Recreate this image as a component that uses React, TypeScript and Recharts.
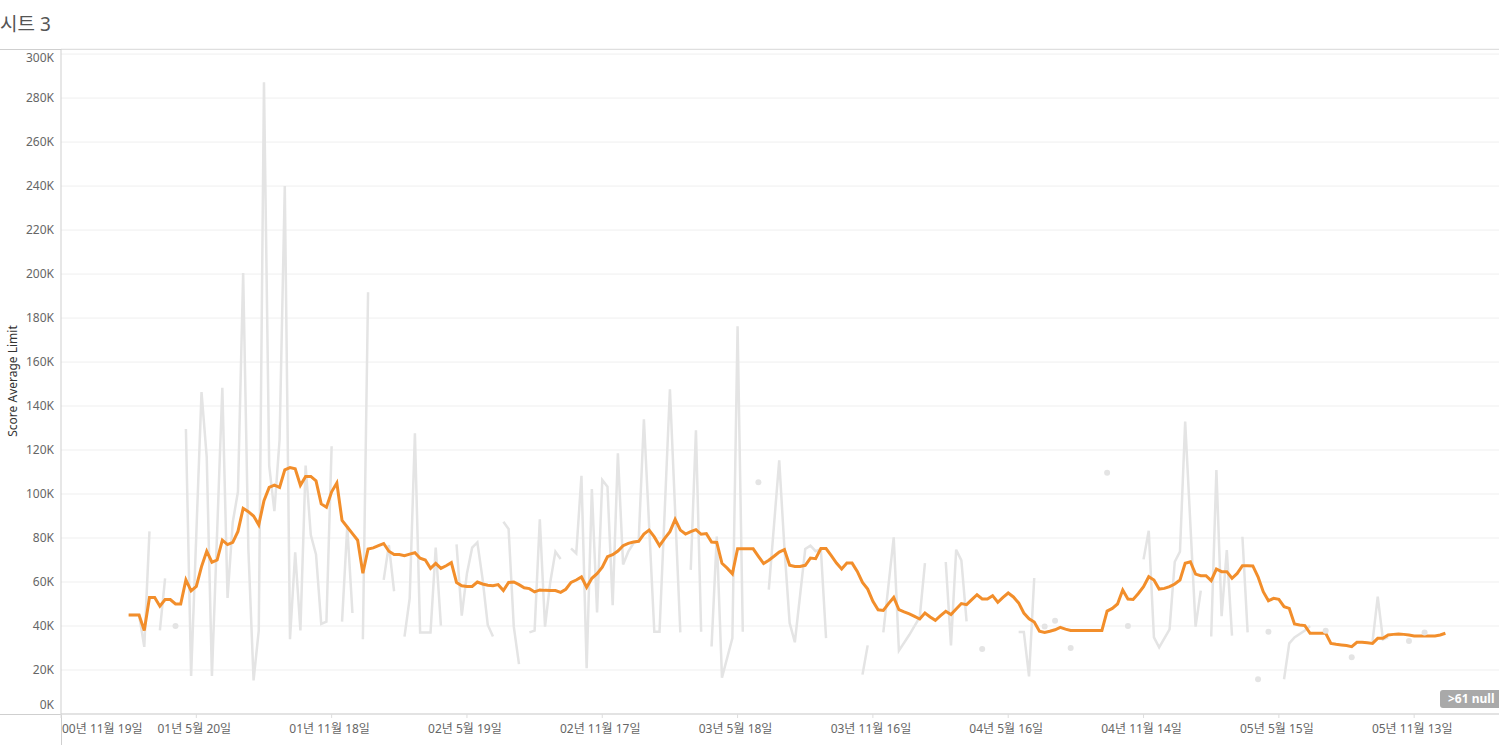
import React from 'react'
import { LineChart, Line, XAxis, YAxis, CartesianGrid } from 'recharts'

const TITLE = '시트 3'
const Y_LABEL = 'Score Average Limit'
const NULL_BADGE = '>61 null'

// weeks counted from 2000-11-19
const X_TICK_WEEKS = [0, 26, 52, 78, 104, 130, 156, 182, 208, 234, 260]
const X_TICK_LABELS = [
  '00년 11월 19일',
  '01년 5월 20일',
  '01년 11월 18일',
  '02년 5월 19일',
  '02년 11월 17일',
  '03년 5월 18일',
  '03년 11월 16일',
  '04년 5월 16일',
  '04년 11월 14일',
  '05년 5월 15일',
  '05년 11월 13일',
]
const Y_TICKS = [0, 20, 40, 60, 80, 100, 120, 140, 160, 180, 200, 220, 240, 260, 280, 300]

// moving average (K), one value per week starting at week 13
const MA_START_WEEK = 13
const movingAvgK = [
  45, 45, 45, 38, 53, 53, 49, 52, 52, 50,
  50, 61, 56, 58, 67, 74, 69, 70, 79, 77,
  78, 83, 93.5, 92, 90, 86, 97, 103, 104, 103,
  111, 112, 111.5, 104, 108, 108, 106, 95.5, 94, 101,
  105, 88, 85, 82, 79, 64, 75, 75.5, 76.5, 77.5,
  74, 72.5, 72.5, 72, 72.7, 73.3, 70.8, 70, 66.2, 68.5,
  66.2, 67.4, 68.8, 59.8, 58.3, 58, 58, 60, 59.1, 58.5,
  58.3, 58.8, 56.1, 59.8, 60, 58.8, 57.4, 57, 55.5, 56.4,
  56.2, 56.1, 56.1, 55.3, 56.7, 59.8, 60.9, 62.3, 57.6, 61.7,
  63.8, 66.7, 71.5, 72.4, 74.1, 76.5, 77.6, 78.2, 78.5, 81.8,
  83.6, 80.5, 76.5, 79.8, 82.9, 88.5, 83.6, 81.8, 82.9, 83.8,
  81.7, 82, 78.2, 78, 68.5, 66.3, 63.7, 75.1, 75.1, 75.1,
  75.1, 71.7, 68.4, 69.9, 71.7, 73.6, 74.7, 67.6, 67.1, 67.1,
  67.6, 70.9, 70.6, 75.2, 75.2, 72, 68.6, 65.9, 68.6, 68.6,
  64.8, 59.8, 56.8, 51.2, 47.4, 47.1, 50.2, 53, 47.4, 46.4,
  45.5, 44.4, 43.2, 45.9, 44.1, 42.6, 44.7, 46.7, 45.2, 47.7,
  50.2, 49.7, 52, 54.2, 52.3, 52.3, 53.8, 50.8, 53, 55,
  53.2, 50.5, 45.9, 43.3, 41.8, 37.6, 37.1, 37.6, 38.3, 39.4,
  38.6, 38, 38, 38, 38, 38, 38, 38, 46.8, 48,
  50, 56.4, 52.3, 52.1, 54.8, 57.9, 62.4, 60.9, 56.8, 57.1,
  57.9, 59.1, 60.9, 68.5, 69.2, 63.6, 62.9, 62.9, 60.6, 65.9,
  64.7, 64.7, 61.7, 63.9, 67.4, 67.4, 67.3, 62.4, 55.6, 51.5,
  52.6, 52.1, 48.8, 48, 40.9, 40.5, 40.2, 36.7, 36.7, 36.7,
  36.7, 32.1, 31.7, 31.4, 31.1, 30.6, 32.6, 32.6, 32.4, 32.1,
  34.4, 34.4, 35.9, 36.2, 36.4, 36.2, 35.9, 35.5, 35.5, 35.5,
  35.5, 35.5, 35.9, 36.7,
]

// raw weekly score (K); null = missing week, breaks the line
const scoreWeeks = [
  13, 14, 15, 16, 17, 18,
  19, 20, 21,
  22, 23,
  24, 25, 27, 28, 29, 31, 32, 33, 34, 35, 36, 37, 38, 39, 40, 41, 42, 43, 44, 45, 46, 47, 48, 49, 50, 51, 52, 53,
  54, 55, 56, 57,
  58, 59, 60,
  62, 63, 64, 65,
  66, 67, 68, 69, 70, 71, 72, 73, 74,
  76, 77, 78, 79, 80, 81, 82, 83, 84,
  85, 86, 87, 88, 89,
  90, 91, 92, 93, 94, 95, 96, 97,
  98, 99, 100, 101, 102, 103, 104, 105, 106, 107, 108, 109, 110, 111, 112, 114, 115, 117, 119, 120,
  121, 122, 123, 124,
  125, 126, 127, 129, 130, 131, 132,
  134, 135,
  136, 138, 139, 140, 141, 143, 144, 145, 146, 147, 148,
  154, 155, 156,
  158, 160, 161, 163, 165, 166, 167,
  170, 171, 172, 173, 174, 175,
  177, 178,
  184, 185, 186, 187, 188,
  189, 190,
  191, 192,
  194, 195,
  201, 202,
  205, 206,
  208, 209, 210, 211, 213, 214, 215, 216, 218, 219, 220,
  221, 222, 223, 224, 225, 226,
  227, 228, 229,
  230, 231,
  232, 233,
  235, 236, 237, 239, 240, 241,
  243, 244,
  248, 249,
  252, 253, 254, 255, 256,
  259, 260,
  262,
]
const scoreK = [
  45, 45, 45, 30.5, 83, null,
  38, 61.6, null,
  40, null,
  129.6, 17.3, 146.3, 116.8, 17.3, 148.3, 52.8, 87.2, 101, 200.5, 75, 15.3, 38, 287.2, 112.9, 92.2, 124.7, 240, 34, 73.5, 38, 112.9, 81.3, 72.5, 41, 42, 121.7, null,
  42, 85.3, 45.9, null,
  34, 191.7, null,
  61, 76.8, 55.8, null,
  35.2, 52.6, 127.6, 37.1, 37.1, 37.1, 75.6, 40.2, null,
  77.1, 44.7, 63.9, 75.6, 78, 61.4, 40.5, 35.2, null,
  87.4, 84.1, 39.7, 22.7, null,
  37.1, 37.9, 88.5, 39.7, 59.8, 73.8, 70.5, null,
  75.3, 73, 108.3, 20.8, 102.3, 46.2, 106.4, 103.3, 49.5, 118.5, 68, 73.8, 77.6, 79, 134, 37.4, 37.4, 147.6, 37.1, null,
  65.5, 129, 37.4, null,
  30.7, 80.7, 16.5, 34.5, 176.2, 37.4, null,
  105.4, null,
  56.5, 115.3, 75.5, 41.4, 32.6, 75, 76.5, 74, 75, 34.5, null,
  17.9, 31.2, null,
  37.1, 80.3, 28.8, 36, 44, 68.6, null,
  69.1, 31.2, 74.7, 69.8, 42.1, null,
  29.5, null,
  37.3, 37.3, 17.1, 61.8, null,
  39.8, null,
  42.4, null,
  30, null,
  109.7, null,
  40, null,
  70.3, 83.3, 34.8, 30.3, 38.5, 69.2, 73.8, 132.9, 39.7, 56.1, null,
  35.2, 110.9, 44.5, 74.5, 35.6, null,
  80.6, 37.1, null,
  15.8, null,
  37.4, null,
  15.8, 32.1, 34.8, 37.9, 40, null,
  37.9, null,
  25.8, null,
  32.9, 53.3, 33.9, 35, null,
  33.2, null,
  37.1,
]

const avgData = movingAvgK.map((v, i) => ({ week: MA_START_WEEK + i, value: v }))
const scoreData = scoreWeeks.map((w, i) => ({ week: w, value: scoreK[i] }))

const GRAY = '#e4e4e4'
const ORANGE = '#f28e2b'
const FONT = '"Noto Sans", "Noto Sans CJK KR", sans-serif'
const TICK_COLOR = '#666666'

function isIsolated(i: number) {
  if (scoreK[i] == null) return false
  const prev = i > 0 ? scoreK[i - 1] : null
  const next = i < scoreK.length - 1 ? scoreK[i + 1] : null
  return prev == null && next == null
}

function ScoreDot(props: any) {
  const { cx, cy, index } = props
  if (cy == null || !isIsolated(index)) return <g key={`d${index}`} />
  return <circle key={`d${index}`} cx={cx} cy={cy} r={3} fill={GRAY} />
}

function XTick(props: any) {
  const { x, y, payload, index } = props
  const i = X_TICK_WEEKS.indexOf(payload.value)
  const first = index === 0
  return (
    <text
      x={first ? x + 1 : x - 2}
      y={y + 13}
      textAnchor={first ? 'start' : 'middle'}
      fontSize={12}
      fill={TICK_COLOR}
      fontFamily={FONT}
    >
      {X_TICK_LABELS[i]}
    </text>
  )
}

function YTick(props: any) {
  const { x, y, payload } = props
  let shift = 4
  if (payload.value === 0) shift = -5
  if (payload.value === 300) shift = 8
  return (
    <text x={x + 1} y={y + shift} textAnchor="end" fontSize={12} fill={TICK_COLOR} fontFamily={FONT}>
      {payload.value}K
    </text>
  )
}

export default function App() {
  return (
    <div
      style={{
        position: 'absolute',
        left: 0,
        top: 0,
        width: 1499,
        height: 745,
        background: '#fff',
        overflow: 'hidden',
        fontFamily: FONT,
      }}
    >
      <div style={{ position: 'absolute', left: 0, top: 10, fontSize: 19, color: '#555', lineHeight: '28px' }}>
        {TITLE}
      </div>
      <div style={{ position: 'absolute', left: 0, top: 49, width: 1499, height: 1, background: '#cfcfcf' }} />
      <div style={{ position: 'absolute', left: 0, top: 714, width: 61, height: 1, background: '#cfcfcf' }} />
      <div style={{ position: 'absolute', left: 61, top: 714, width: 1, height: 31, background: '#cfcfcf' }} />
      <div
        style={{
          position: 'absolute',
          left: 12,
          top: 381,
          transform: 'translate(-50%, -50%) rotate(-90deg)',
          fontSize: 12,
          color: '#333',
          whiteSpace: 'nowrap',
        }}
      >
        {Y_LABEL}
      </div>
      <div style={{ position: 'absolute', left: 0, top: 0 }}>
        <LineChart width={1499} height={745} margin={{ top: 49, right: 0, bottom: 0, left: 0 }}>
          <CartesianGrid vertical={false} stroke="#efefef" />
          <XAxis
            type="number"
            dataKey="week"
            domain={[0, 276.3]}
            ticks={X_TICK_WEEKS}
            interval={0}
            allowDataOverflow
            height={31}
            tickSize={4}
            tickLine={{ stroke: '#dddddd' }}
            axisLine={{ stroke: '#cfcfcf' }}
            tick={<XTick />}
          />
          <YAxis
            type="number"
            domain={[0, 302.3]}
            ticks={Y_TICKS}
            interval={0}
            allowDataOverflow
            width={61}
            tickLine={false}
            axisLine={{ stroke: '#cfcfcf' }}
            tick={<YTick />}
          />
          <Line
            data={scoreData}
            dataKey="value"
            type="linear"
            stroke={GRAY}
            strokeWidth={2.5}
            dot={ScoreDot}
            activeDot={false}
            connectNulls={false}
            isAnimationActive={false}
          />
          <Line
            data={avgData}
            dataKey="value"
            type="linear"
            stroke={ORANGE}
            strokeWidth={3}
            dot={false}
            activeDot={false}
            isAnimationActive={false}
          />
        </LineChart>
      </div>
      <div
        style={{
          position: 'absolute',
          left: 1440,
          top: 690,
          height: 18,
          lineHeight: '18px',
          padding: '0 8px',
          borderRadius: 3,
          background: '#a9a9a9',
          color: '#fff',
          fontWeight: 700,
          fontSize: 12,
          whiteSpace: 'nowrap',
        }}
      >
        {NULL_BADGE}
      </div>
    </div>
  )
}
